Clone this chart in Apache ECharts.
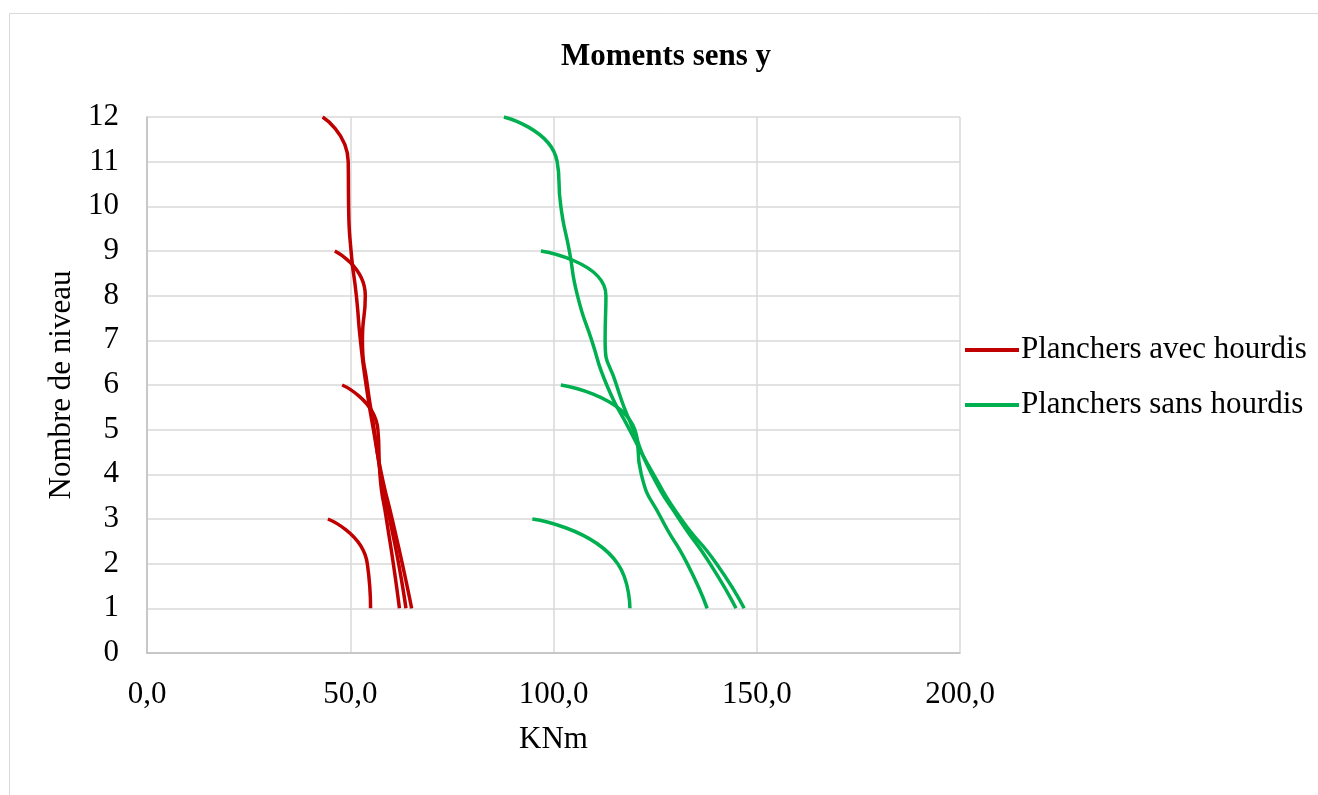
<!DOCTYPE html>
<html>
<head>
<meta charset="utf-8">
<script src="https://cdn.jsdelivr.net/npm/echarts@6/dist/echarts.min.js"></script>
<style>
html,body{margin:0;padding:0;background:#fff;}
#chart{width:1318px;height:795px;}
</style>
</head>
<body>
<div id="chart"></div>
<script>
// ---- data (levels = "Nombre de niveau", values = KNm) ----
const levels3  = [1, 2, 3];
const levels6  = [1, 2, 3, 4, 5, 6];
const levels9  = [1, 2, 3, 4, 5, 6, 7, 8, 9];
const levels12 = [1, 2, 3, 4, 5, 6, 7, 8, 9, 10, 11, 12];

const avec3  = [55.0, 54.2, 44.5];
const avec6  = [62.1, 60.6, 58.9, 57.3, 56.8, 48.0];
const avec9  = [63.7, 61.9, 59.7, 57.5, 55.9, 54.2, 53.0, 53.7, 46.2];
const avec12 = [65.1, 62.8, 60.3, 57.7, 55.7, 53.9, 52.5, 51.5, 50.2, 49.6, 49.5, 43.2];

const sans3  = [118.8, 115.8, 94.8];
const sans6  = [137.8, 132.9, 126.6, 121.6, 120.0, 101.8];
const sans9  = [144.9, 138.5, 130.9, 124.2, 119.6, 115.5, 112.7, 112.9, 96.9];
const sans12 = [146.9, 140.1, 131.4, 124.6, 118.7, 113.1, 109.4, 105.9, 103.9, 101.8, 100.9, 87.8];

const nameAvec = 'Planchers avec hourdis';
const nameSans = 'Planchers sans hourdis';
const colorAvec = '#C00000';
const colorSans = '#00B050';

const xTicks = {min: 0, max: 200, interval: 50};
const yTicks = {min: 0, max: 12, interval: 1};

function pts(vals, lv) { return vals.map((v, i) => [v, lv[i]]); }

const FONT = 'Liberation Serif, Times New Roman, serif';

function mkSeries(name, color, vals, lv) {
  return {
    name: name,
    type: 'line',
    data: pts(vals, lv),
    smooth: 0.6,
    symbol: 'none',
    lineStyle: {color: color, width: 3.5},
    itemStyle: {color: color},
    emphasis: {disabled: true},
    silent: true
  };
}

const chart = echarts.init(document.getElementById('chart'), null, {renderer: 'canvas'});
chart.setOption({
  animation: false,
  backgroundColor: '#fff',
  graphic: [{
    type: 'rect',
    shape: {x: 9.5, y: 13.5, width: 1400, height: 900},
    style: {fill: 'none', stroke: '#d9d9d9', lineWidth: 1},
    silent: true
  }],
  title: {
    text: 'Moments sens y',
    left: 661,
    textAlign: 'center',
    top: 36,
    textStyle: {fontFamily: FONT, fontSize: 31, fontWeight: 'bold', color: '#000'}
  },
  legend: {
    orient: 'vertical',
    left: 965,
    top: 332,
    padding: 0,
    itemWidth: 54,
    itemHeight: 4,
    itemGap: 19,
    icon: 'rect',
    data: [nameAvec, nameSans],
    textStyle: {fontFamily: FONT, fontSize: 31, color: '#000', lineHeight: 34, padding: [2, 0, 0, -3]}
  },
  grid: {left: 147, right: 358, top: 117, bottom: 142, containLabel: false},
  xAxis: {
    type: 'value',
    min: xTicks.min, max: xTicks.max, interval: xTicks.interval,
    name: 'KNm',
    nameLocation: 'middle',
    nameGap: 71,
    nameTextStyle: {fontFamily: FONT, fontSize: 31, color: '#000'},
    axisLine: {show: true, lineStyle: {color: '#bfbfbf', width: 1.5}},
    axisTick: {show: false},
    axisLabel: {
      fontFamily: FONT, fontSize: 31, color: '#000', margin: 26,
      formatter: v => v.toFixed(1).replace('.', ',')
    },
    splitLine: {show: true, lineStyle: {color: '#d9d9d9', width: 1.5}}
  },
  yAxis: {
    type: 'value',
    min: yTicks.min, max: yTicks.max, interval: yTicks.interval,
    name: 'Nombre de niveau',
    nameLocation: 'middle',
    nameGap: 68,
    nameRotate: 90,
    nameTextStyle: {fontFamily: FONT, fontSize: 31, color: '#000'},
    axisLine: {show: true, lineStyle: {color: '#bfbfbf', width: 1.5}},
    axisTick: {show: false},
    axisLabel: {fontFamily: FONT, fontSize: 31, color: '#000', margin: 28},
    splitLine: {show: true, lineStyle: {color: '#d9d9d9', width: 1.5}}
  },
  series: [
    mkSeries(nameAvec, colorAvec, avec3, levels3),
    mkSeries(nameAvec, colorAvec, avec6, levels6),
    mkSeries(nameAvec, colorAvec, avec9, levels9),
    mkSeries(nameAvec, colorAvec, avec12, levels12),
    mkSeries(nameSans, colorSans, sans3, levels3),
    mkSeries(nameSans, colorSans, sans6, levels6),
    mkSeries(nameSans, colorSans, sans9, levels9),
    mkSeries(nameSans, colorSans, sans12, levels12)
  ]
});
</script>
</body>
</html>
